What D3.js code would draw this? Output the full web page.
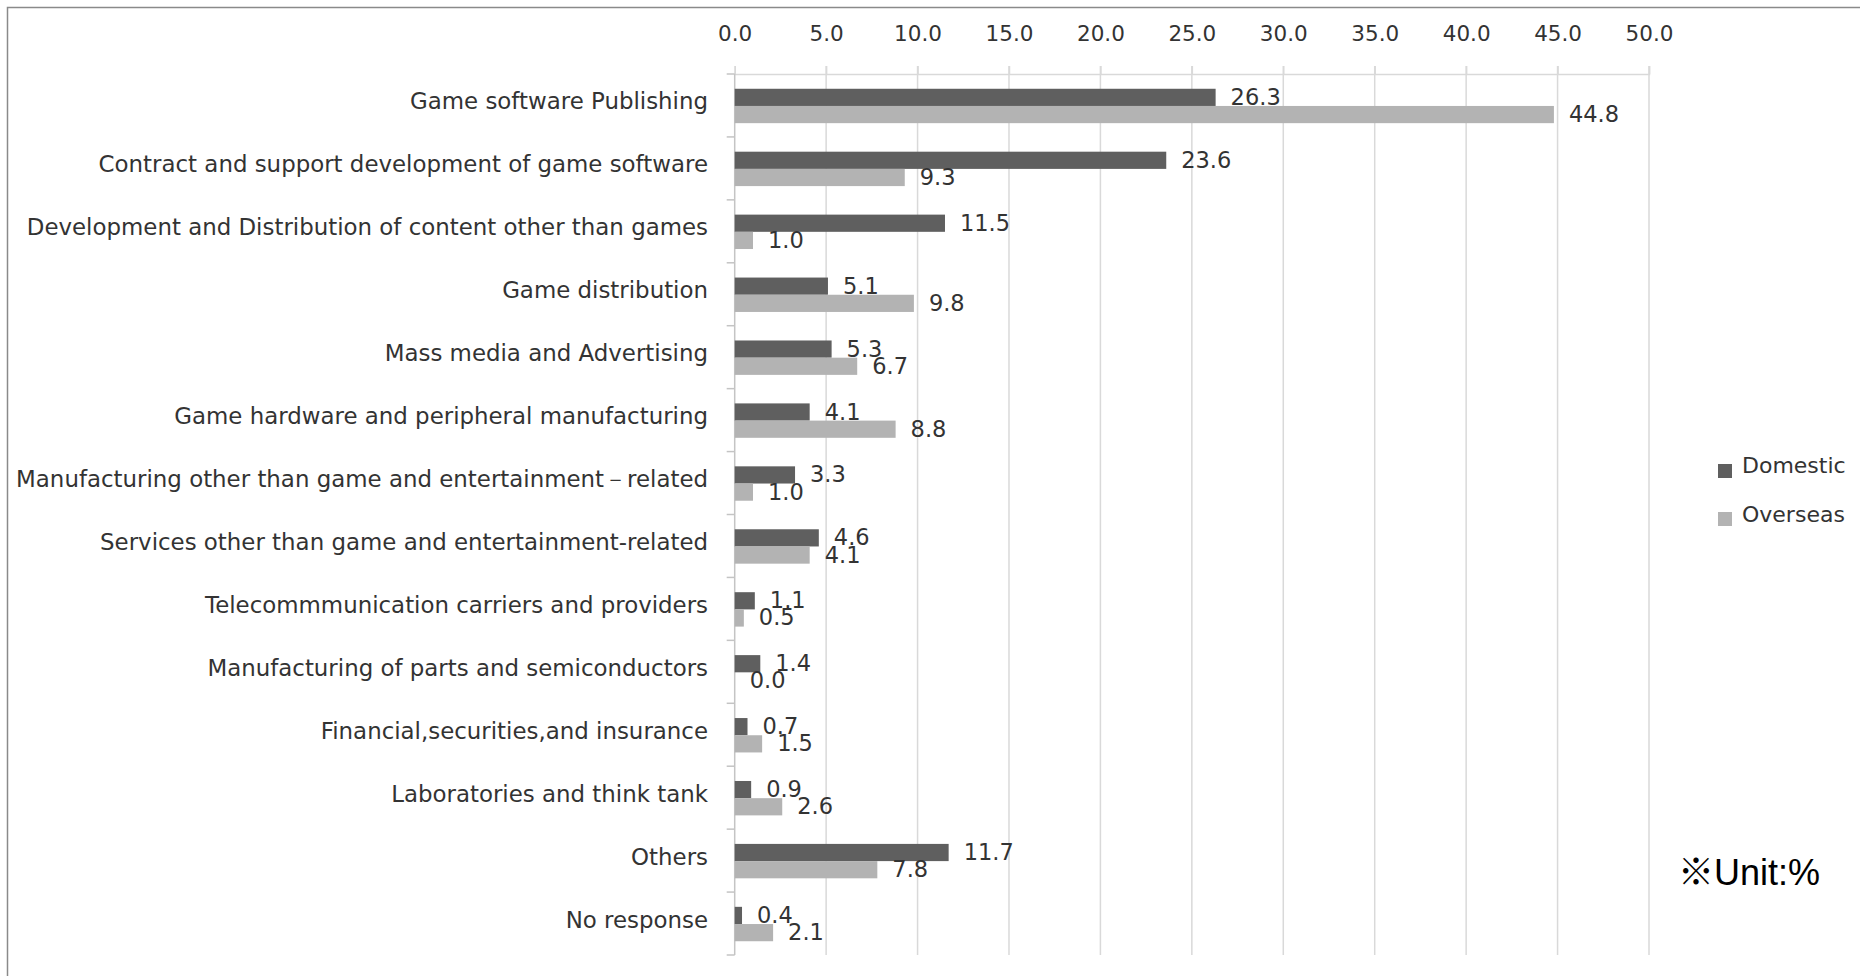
<!DOCTYPE html>
<html>
<head>
<meta charset="utf-8">
<script src="https://cdn.jsdelivr.net/npm/d3@7"></script>
<style>
  html, body { margin: 0; padding: 0; background: #fff; }
  svg { display: block; }
  text { font-family: "DejaVu Sans", Verdana, sans-serif; fill: #333; }
</style>
</head>
<body>
<svg id="chart" width="1860" height="976"></svg>
<script>
// Business fields, top to bottom
const categories = [
  "Game software Publishing",
  "Contract and support development of game software",
  "Development and Distribution of content other than games",
  "Game distribution",
  "Mass media and Advertising",
  "Game hardware and peripheral manufacturing",
  "Manufacturing other than game and entertainment－related",
  "Services other than game and entertainment-related",
  "Telecommmunication carriers and providers",
  "Manufacturing of parts and semiconductors",
  "Financial,securities,and insurance",
  "Laboratories and think tank",
  "Others",
  "No response"
];
const domestic = [26.3, 23.6, 11.5, 5.1, 5.3, 4.1, 3.3, 4.6, 1.1, 1.4, 0.7, 0.9, 11.7, 0.4];
const overseas = [44.8, 9.3, 1.0, 9.8, 6.7, 8.8, 1.0, 4.1, 0.5, 0.0, 1.5, 2.6, 7.8, 2.1];
const seriesNames = ["Domestic", "Overseas"];
const seriesColors = ["#5f5f5f", "#b3b3b3"];
const tickValues = [0, 5, 10, 15, 20, 25, 30, 35, 40, 45, 50];
const unitNote = "※Unit:%";

const svg = d3.select("#chart");

// outer chart frame
svg.append("rect")
  .attr("x", 7.5).attr("y", 7.5)
  .attr("width", 1870).attr("height", 990)
  .attr("fill", "none").attr("stroke", "#8a8a8a").attr("stroke-width", 1.5);

const plot = { left: 734.7, right: 1649, top: 74, bottom: 955 };

const x = d3.scaleLinear().domain([0, 50]).range([plot.left, plot.right]);
const y = d3.scaleBand().domain(categories).range([plot.top, plot.bottom]).padding(0);
const barH = 17.2;

// vertical gridlines (extend slightly above the top axis as outside ticks)
svg.append("g").selectAll("line")
  .data(tickValues.filter(t => t > 0))
  .join("line")
  .attr("x1", d => x(d)).attr("x2", d => x(d))
  .attr("y1", plot.top - 8).attr("y2", plot.bottom)
  .attr("stroke", "#d9d9d9").attr("stroke-width", 1.5);

// top value axis
const xAxis = d3.axisTop(x).tickValues(tickValues).tickFormat(d3.format(".1f")).tickSize(8).tickPadding(10);
const gx = svg.append("g").attr("transform", `translate(0,${plot.top})`).call(xAxis);
gx.select(".domain").attr("stroke", "#d9d9d9").attr("stroke-width", 1.5);
gx.selectAll(".tick line").attr("stroke", "#d9d9d9").attr("stroke-width", 1.5);
gx.selectAll(".tick text")
  .attr("y", -33).attr("dy", 0)
  .style("font-family", "'DejaVu Sans', Verdana, sans-serif")
  .style("font-size", "21.5px").attr("fill", "#333");

// category axis line and boundary ticks
const bounds = categories.map(c => y(c)).concat([plot.bottom]);
svg.append("g").selectAll("line")
  .data(bounds)
  .join("line")
  .attr("x1", plot.left - 8).attr("x2", plot.left)
  .attr("y1", d => d).attr("y2", d => d)
  .attr("stroke", "#c4c4c4").attr("stroke-width", 1.5);
svg.append("line")
  .attr("x1", plot.left).attr("x2", plot.left)
  .attr("y1", plot.top).attr("y2", plot.bottom)
  .attr("stroke", "#c4c4c4").attr("stroke-width", 1.5);

// category labels
svg.append("g").selectAll("text")
  .data(categories)
  .join("text")
  .attr("x", 708)
  .attr("y", d => y(d) + y.bandwidth() / 2 + 4)
  .attr("text-anchor", "end")
  .style("font-size", "22.9px")
  .text(d => d);

// bars and value labels
const series = [domestic, overseas];
series.forEach((vals, s) => {
  const g = svg.append("g");
  const rows = categories.map((c, i) => ({ c, v: vals[i] }));
  const yTop = d => y(d.c) + y.bandwidth() / 2 + 0.5 - barH + s * barH;
  g.selectAll("rect")
    .data(rows)
    .join("rect")
    .attr("x", x(0))
    .attr("y", yTop)
    .attr("width", d => x(d.v) - x(0))
    .attr("height", barH)
    .attr("fill", seriesColors[s]);
  g.selectAll("text")
    .data(rows)
    .join("text")
    .attr("x", d => x(d.v) + 15)
    .attr("y", d => yTop(d) + barH / 2 + 7.5)
    .style("font-size", "22.5px")
    .text(d => d3.format(".1f")(d.v));
});

// legend
const legend = svg.append("g");
seriesNames.forEach((name, i) => {
  const ly = 464 + i * 48;
  legend.append("rect")
    .attr("x", 1718).attr("y", ly)
    .attr("width", 14).attr("height", 14)
    .attr("fill", seriesColors[i]);
  legend.append("text")
    .attr("x", 1742).attr("y", ly + 9 + i)
    .style("font-size", "22px")
    .text(name);
});

// unit note
svg.append("text")
  .attr("x", 1678).attr("y", 885)
  .style("font-family", "'Liberation Sans', Arial, 'Noto Sans CJK JP', sans-serif")
  .style("font-size", "36px")
  .style("fill", "#000")
  .text(unitNote);
</script>
</body>
</html>
